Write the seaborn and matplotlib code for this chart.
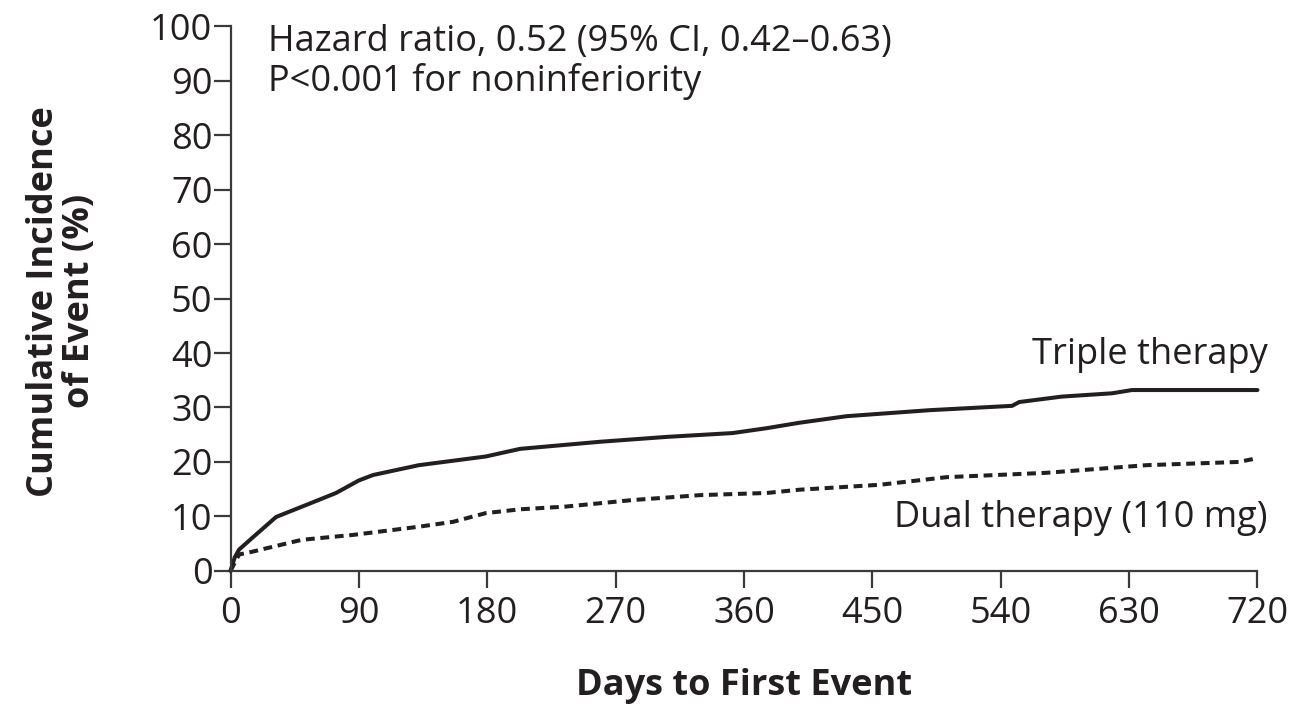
import numpy as np
import pandas as pd
import matplotlib.pyplot as plt
import seaborn as sns

# Values (days, cumulative incidence %)
triple_days = [0, 3, 6, 15, 32, 55, 74, 90, 100, 132, 179, 203, 259, 306, 352, 376,
               399, 432, 490, 548, 553, 583, 618, 632, 720]
triple_pct = [0, 2.5, 3.9, 6.0, 9.9, 12.3, 14.3, 16.6, 17.6, 19.4, 21.0, 22.4, 23.7,
              24.6, 25.3, 26.2, 27.2, 28.4, 29.5, 30.3, 31.0, 32.0, 32.6, 33.2, 33.2]

dual_days = [0, 6, 15, 50, 86, 132, 156, 179, 203, 235, 282, 329, 376, 399, 455,
             502, 572, 642, 707, 720]
dual_pct = [0, 3.0, 3.5, 5.7, 6.6, 8.1, 9.0, 10.6, 11.3, 11.8, 13.0, 13.9, 14.3,
            14.9, 15.8, 17.2, 18.0, 19.4, 20.0, 20.7]

x_ticks = [0, 90, 180, 270, 360, 450, 540, 630, 720]
y_ticks = list(range(0, 101, 10))

sns.set_style("ticks")
plt.rcParams['font.family'] = ['Open Sans', 'DejaVu Sans']
ink = '#231f20'

fig = plt.figure(figsize=(12.95, 7.1), dpi=100)
ax = fig.add_axes([0.178, 0.196, 0.793, 0.767])

triple = pd.DataFrame({'Days': triple_days, 'Pct': triple_pct})
dual = pd.DataFrame({'Days': dual_days, 'Pct': dual_pct})
sns.lineplot(data=triple, x='Days', y='Pct', ax=ax, color=ink, linewidth=2.9, clip_on=False)
sns.lineplot(data=dual, x='Days', y='Pct', ax=ax, color=ink, linewidth=2.9,
             linestyle=(0, (2.2, 1.4)), clip_on=False)

ax.set_xlim(0, 720)
ax.set_ylim(0, 100)
ax.set_xticks(x_ticks)
ax.set_yticks(y_ticks)
sns.despine(ax=ax)
for s in ['left', 'bottom']:
    ax.spines[s].set_color('#3a3a3a')
    ax.spines[s].set_linewidth(1.6)
ax.tick_params(axis='both', direction='out', length=12, width=1.6, color='#3a3a3a',
               labelsize=26, labelcolor=ink)
ax.tick_params(axis='x', pad=6)
ax.tick_params(axis='y', pad=1)

ax.set_xlabel('Days to First Event', fontsize=26, fontweight='bold', color=ink, labelpad=26)
ax.set_ylabel('Cumulative Incidence\nof Event (%)', fontsize=26, fontweight='bold',
              color=ink, linespacing=1.0)
ax.yaxis.set_label_coords(-0.1295, 0.495)

ax.text(26, 100.5, 'Hazard ratio, 0.52 (95% CI, 0.42\u20130.63)\nP<0.001 for noninferiority',
        fontsize=26, color=ink, va='top', ha='left', linespacing=1.12)
ax.text(727, 39.6, 'Triple therapy', fontsize=26, color=ink, ha='right', va='center')
ax.text(727, 9.7, 'Dual therapy (110 mg)', fontsize=26, color=ink, ha='right', va='center')

fig.savefig('out.png', dpi=100)
